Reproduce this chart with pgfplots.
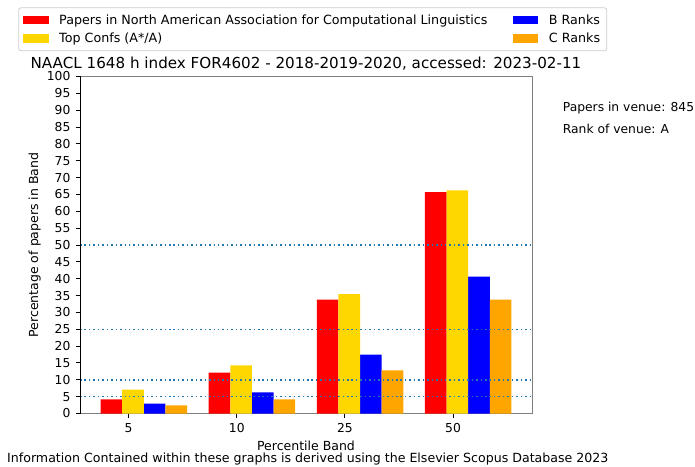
\documentclass[border=0pt]{standalone}
\usepackage{fontspec}
\setmainfont{DejaVu Sans}
\usepackage{pgfplots}
\pgfplotsset{compat=1.18}
\definecolor{cRed}{HTML}{FF0000}
\definecolor{cGold}{HTML}{FFD700}
\definecolor{cBlue}{HTML}{0000FF}
\definecolor{cOrange}{HTML}{FFA500}
\definecolor{cLine}{HTML}{1F77B4}
\definecolor{spine}{HTML}{7F7F7F}
\pgfplotsset{
  mybar/.style={ybar, draw=none, bar width=0.2,
    legend image code/.code={\fill[##1,draw=none,sharp corners] (0pt,-4.5pt) rectangle (26.8pt,4.5pt);}},
  refline/.style={cLine, line width=1.5pt, dash pattern=on 1.6pt off 3.1pt, forget plot},
}
\begin{document}
\begin{tikzpicture}
\useasboundingbox (-84.48pt,-55.44pt) rectangle (649.44pt,436.66pt);
\begin{axis}[
  at={(0pt,0pt)}, anchor=south west,
  scale only axis, width=477.3pt, height=355.9pt,
  xmin=-0.45, xmax=3.73, ymin=0, ymax=100,
  xtick={0,1,2,3}, xticklabels={5,10,25,50},
  ytick={0,5,...,100},
  tick align=outside, tick pos=left, major tick length=4.6pt,
  tick style={black, line width=1pt},
  axis line style={draw=spine, line width=1pt},
  xlabel={Percentile Band}, ylabel={Percentage of papers in Band},
  /pgf/number format/assume math mode=true,
  ticklabel style={font=\fontsize{13}{15}\selectfont},
  yticklabel style={xshift=-2pt},
  xticklabel style={yshift=-2.5pt},
  label style={font=\fontsize{13.2}{15}\selectfont},
  xlabel style={at={(axis description cs:0.5,-0.1104)}, anchor=base},
  ylabel style={at={(axis description cs:-0.0929,0.5)}, anchor=base},
  legend columns=2,
  legend cell align=left,
  legend style={at={(-0.1365,1.2047)}, anchor=north west,
    draw=black!20, rounded corners=2.5pt, line width=0.8pt,
    font=\fontsize{13.4}{15.5}\selectfont,
    inner sep=5pt, row sep=4pt,
    nodes={inner sep=2pt},
    /tikz/every odd column/.append style={column sep=9pt},
    /tikz/every even column/.append style={column sep=25pt}},
]
\addplot[mybar, fill=cRed, bar shift=-0.16] coordinates {(0,4.2) (1,12.1) (2,33.8) (3,65.7)};
\addlegendentry{Papers in North American Association for Computational Linguistics}
\addplot[mybar, fill=cBlue, bar shift=0.24] coordinates {(0,2.9) (1,6.3) (2,17.5) (3,40.6)};
\addlegendentry{B Ranks}
\addplot[mybar, fill=cGold, bar shift=0.04] coordinates {(0,7.1) (1,14.3) (2,35.4) (3,66.2)};
\addlegendentry{Top Confs (A*/A)}
\addplot[mybar, fill=cOrange, bar shift=0.44] coordinates {(0,2.4) (1,4.2) (2,12.8) (3,33.8)};
\addlegendentry{C Ranks}
\addplot[refline] coordinates {(-0.45,5) (3.73,5)};
\addplot[refline] coordinates {(-0.45,10) (3.73,10)};
\addplot[refline] coordinates {(-0.45,25) (3.73,25)};
\addplot[refline] coordinates {(-0.45,50) (3.73,50)};
\draw[black, line width=1pt] (rel axis cs:0,0) -- (rel axis cs:0,1);
\end{axis}
\begin{scope}[x=1.056pt, y=-1.056pt, shift={(-84.48pt,436.66pt)}]
\node[anchor=base, font=\fontsize{16}{19}\selectfont, inner sep=0pt] at (306,69) {NAACL 1648 h index FOR4602 - 2018-2019-2020, accessed: 2023-02-11};
\node[anchor=base west, font=\fontsize{13}{15}\selectfont, inner sep=0pt] at (562.7,111.5) {Papers in venue: 845};
\node[anchor=base west, font=\fontsize{13}{15}\selectfont, inner sep=0pt] at (562.7,133.3) {Rank of venue: A};
\node[anchor=base west, font=\fontsize{13.3}{15}\selectfont, inner sep=0pt] at (7,462.7) {Information Contained within these graphs is derived using the Elsevier Scopus Database 2023};
\end{scope}
\end{tikzpicture}
\end{document}
